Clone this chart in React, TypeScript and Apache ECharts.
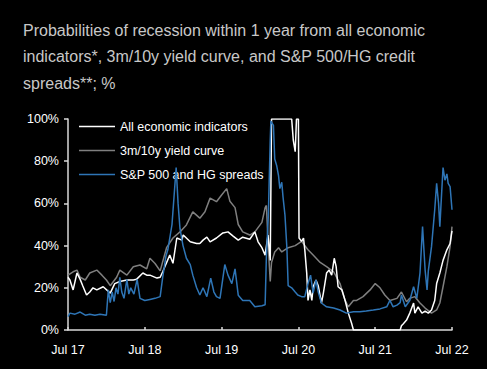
import React, { useEffect, useRef } from "react";
import * as echarts from "echarts";

// x = months since Jul 2017, y = probability (%)
const xTickLabels = ["Jul 17", "Jul 18", "Jul 19", "Jul 20", "Jul 21", "Jul 22"];
const yTickLabels = ["0%", "20%", "40%", "60%", "80%", "100%"];

const seriesNames = ["All economic indicators", "3m/10y yield curve", "S&P 500 and HG spreads"];

const econIndicators: [number, number][] = [
  [0, 25], [0.3, 23.7], [0.8, 19], [1.4, 27], [1.9, 24], [2.3, 21], [2.9, 16.6], [3.4, 18],
  [3.9, 20], [4.5, 19], [5.5, 20.5], [6.6, 17.5], [7.3, 22], [8.1, 23], [9.2, 23.7], [10.2, 23.7],
  [10.7, 24], [11.7, 27], [12.3, 26], [12.8, 26], [13.9, 24.6], [14.4, 25], [14.8, 27.6],
  [15.9, 35.5], [16.4, 31.6], [17.0, 43.6], [17.8, 42.6], [18.0, 45], [19.1, 41.8], [20.1, 41],
  [20.6, 41], [21.1, 42.6], [21.7, 44], [22.2, 41.8], [23.2, 43.6], [24.2, 46], [25.0, 46.5],
  [25.8, 44.5], [26.6, 42.6], [27.3, 44], [28.4, 43], [29.2, 46.5], [29.7, 41.8], [30.3, 39],
  [30.8, 35.5], [31.25, 45], [31.6, 33], [31.8, 100], [34.95, 100], [35.2, 90], [35.5, 84.5],
  [35.7, 100], [36.0, 100], [36.1, 43.6], [36.5, 42], [36.8, 43.6], [37.0, 38], [37.3, 27],
  [37.5, 14], [37.8, 19], [38.1, 14], [38.3, 20.5], [38.75, 23.7], [39.1, 21], [39.6, 12.8],
  [39.9, 17.5], [40.4, 27], [40.8, 28.4], [41.2, 26], [41.6, 34], [41.9, 30], [42.2, 20.5],
  [42.8, 19], [43.3, 14], [43.8, 8], [44.3, 3.3], [44.6, 0], [51.9, 0], [52.1, 2], [52.4, 3],
  [52.9, 4.7], [53.4, 8], [54.0, 12.8], [54.2, 8], [54.7, 11], [55.3, 8], [55.8, 9], [56.3, 8],
  [56.8, 9.5], [57.3, 14], [57.6, 22], [58.1, 27], [58.6, 33], [59.2, 38], [59.7, 41], [60, 47],
];

const yieldCurve: [number, number][] = [
  [0, 26], [0.8, 27.6], [1.4, 28.4], [1.9, 25], [2.7, 23.7], [3.4, 27], [4.5, 28.4], [5.3, 26],
  [6.0, 23.7], [6.6, 21], [7.6, 25], [8.1, 28.4], [9.2, 26], [10.2, 30], [11.25, 30.8], [12.3, 29],
  [12.8, 34], [13.6, 31.5], [14.4, 28], [15.4, 39], [16.4, 43.6], [17.5, 46.5], [18.5, 49.8],
  [19.5, 56], [20.6, 53], [21.4, 56], [22.2, 62.5], [23.2, 60.8], [24.0, 64], [24.8, 67],
  [25.3, 61], [26.1, 58], [26.6, 50], [27.3, 46.5], [28.4, 45], [29.2, 46.5], [30.3, 51],
  [30.8, 58], [31.0, 59], [31.3, 39], [31.6, 23], [31.8, 32], [32.3, 37], [32.9, 39], [33.4, 37],
  [34.4, 39], [35.5, 40], [36.5, 42], [37.5, 38], [38.3, 35.5], [39.4, 32], [40.4, 30],
  [41.5, 27.6], [42.5, 22], [43.3, 14], [43.8, 11], [44.6, 14], [45.1, 14], [46.1, 15.8],
  [47.2, 19], [48.0, 22], [48.75, 20], [49.5, 16.6], [50.3, 14], [51.4, 15], [52.1, 18],
  [52.9, 13.4], [53.4, 15], [54.2, 15.8], [55.0, 12.8], [55.8, 10.4], [56.8, 8], [57.6, 9.5],
  [58.1, 12.8], [58.6, 20.5], [59.2, 30], [59.7, 39.5], [60, 49],
];

const spreads: [number, number][] = [
  [0, 6.3], [0.3, 8], [1.1, 7.5], [1.9, 8.5], [2.7, 7], [3.4, 7.5], [4.2, 7], [5.0, 7.5],
  [6.0, 7], [6.3, 19], [6.6, 13], [6.9, 18], [7.2, 13.5], [7.5, 20], [7.8, 17], [8.1, 25],
  [8.4, 18], [8.75, 15], [9.2, 24], [9.5, 17], [9.8, 20], [10.3, 17], [10.8, 24], [11.25, 15],
  [12.0, 14], [12.8, 14.5], [13.6, 15], [14.4, 15.8], [14.8, 25], [15.3, 35], [15.6, 38],
  [16.25, 50], [16.9, 77], [17.2, 60], [17.5, 48], [17.97, 40], [18.5, 34], [19.1, 31],
  [19.5, 26], [20.1, 20], [20.6, 16.6], [21.1, 20], [21.7, 15.8], [22.3, 24.6], [22.8, 18],
  [23.2, 15.8], [23.75, 15], [24.5, 31], [25.0, 26], [25.6, 22], [26.1, 29], [26.6, 16.5],
  [27.3, 14], [28.4, 14], [29.2, 11], [30.3, 11.5], [30.8, 12], [31.0, 35], [31.3, 54],
  [31.6, 90], [31.7, 99], [32.1, 97], [32.3, 81], [32.6, 78], [32.9, 73], [33.1, 67], [33.4, 70],
  [33.6, 63], [33.9, 54.5], [34.2, 39], [34.4, 21], [34.95, 20], [35.5, 18], [35.9, 16.6],
  [36.5, 15.8], [37.0, 15.8], [37.5, 22], [37.9, 26], [38.3, 17.5], [38.75, 23.7], [39.1, 18],
  [39.6, 12.8], [40.4, 11], [41.5, 10.4], [42.5, 9.5], [43.5, 8], [44.6, 8.7], [45.6, 8.7],
  [46.6, 9], [47.7, 9.5], [48.75, 10], [49.8, 11], [50.3, 14], [50.8, 11], [51.4, 11.8],
  [51.9, 13], [52.1, 16.6], [52.7, 11], [53.4, 14], [54.0, 20.5], [54.5, 15], [55.0, 27],
  [55.4, 49], [55.8, 28.4], [56.1, 19], [56.3, 28], [56.8, 39.5], [57.3, 57], [57.6, 69.5],
  [57.9, 60], [58.1, 49], [58.4, 66], [58.6, 77], [58.9, 71], [59.2, 74], [59.4, 69.5],
  [59.7, 68], [60, 57],
];

const FONT = "'Liberation Sans', Arial, sans-serif";

export default function App() {
  const ref = useRef<HTMLDivElement>(null);
  useEffect(() => {
    document.body.style.margin = "0";
    document.body.style.background = "#000";
    const chart = echarts.init(ref.current!, undefined, { renderer: "svg" });
    const axisColor = "#d9d9d9";
    chart.setOption({
      animation: false,
      backgroundColor: "#000",
      title: {
        text:
          "Probabilities of recession within 1 year from all economic\nindicators*, 3m/10y yield curve, and S&P 500/HG credit\nspreads**; %",
        left: 18,
        top: 12,
        textStyle: {
          color: "#c8c8c8",
          fontSize: 16,
          fontWeight: "normal",
          fontFamily: FONT,
          lineHeight: 26.5,
        },
      },
      legend: {
        orient: "vertical",
        left: 79,
        top: 119,
        padding: 0,
        icon: "rect",
        itemWidth: 36,
        itemHeight: 1.5,
        itemGap: 9,
        data: seriesNames,
        textStyle: { color: "#ffffff", fontSize: 12.5, fontFamily: FONT, lineHeight: 15 },
      },
      grid: { left: 68, right: 35, top: 119, bottom: 39 },
      xAxis: {
        type: "value",
        min: 0,
        max: 60,
        interval: 12,
        axisLine: { show: true, lineStyle: { color: axisColor, width: 1.5 } },
        axisTick: { show: true, inside: true, length: 3, lineStyle: { color: axisColor, width: 1.5 } },
        splitLine: { show: false },
        axisLabel: {
          color: "#ffffff",
          fontSize: 12.5,
          fontFamily: FONT,
          margin: 13,
          formatter: (v: number) => xTickLabels[Math.round(v / 12)] ?? "",
        },
      },
      yAxis: {
        type: "value",
        min: 0,
        max: 100,
        interval: 20,
        axisLine: { show: true, lineStyle: { color: axisColor, width: 1.5 } },
        axisTick: { show: true, inside: false, length: 4, lineStyle: { color: axisColor, width: 1.5 } },
        splitLine: { show: false },
        axisLabel: {
          color: "#ffffff",
          fontSize: 12.5,
          fontFamily: FONT,
          margin: 9,
          formatter: (v: number) => yTickLabels[Math.round(v / 20)] ?? "",
        },
      },
      series: [
        {
          name: seriesNames[1],
          type: "line",
          data: yieldCurve,
          showSymbol: false,
          color: "#7f7f7f",
          lineStyle: { width: 1.5, color: "#7f7f7f" },
          z: 2,
        },
        {
          name: seriesNames[0],
          type: "line",
          data: econIndicators,
          showSymbol: false,
          color: "#ffffff",
          lineStyle: { width: 1.5, color: "#ffffff" },
          z: 3,
        },
        {
          name: seriesNames[2],
          type: "line",
          data: spreads,
          showSymbol: false,
          color: "#2e75b6",
          lineStyle: { width: 1.5, color: "#2e75b6" },
          z: 4,
        },
      ],
    });
    return () => chart.dispose();
  }, []);
  return <div ref={ref} style={{ width: 487, height: 369 }} />;
}
